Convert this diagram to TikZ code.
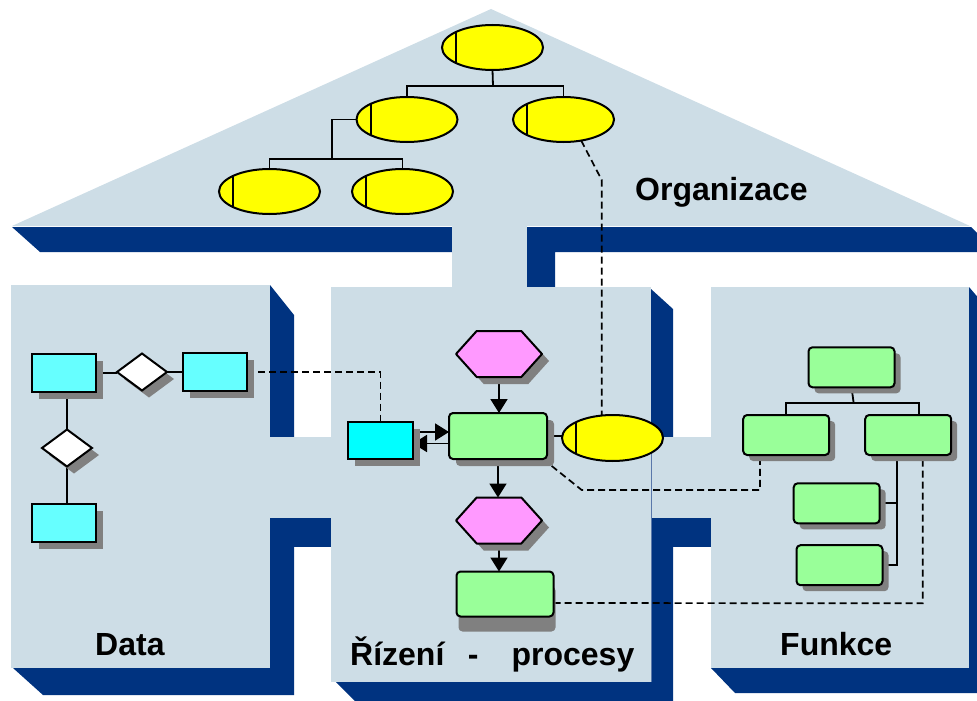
\documentclass[tikz,border=0pt]{standalone}
\usepackage{fontspec}
\setmainfont{Liberation Sans}
\usetikzlibrary{shapes.geometric,shadows,arrows.meta}
\definecolor{pale}{RGB}{205,221,230}
\definecolor{navy}{RGB}{0,51,128}
\definecolor{shadowgray}{RGB}{128,128,128}
\definecolor{ylw}{RGB}{255,255,0}
\definecolor{cyanA}{RGB}{102,255,255}
\definecolor{cyanB}{RGB}{0,255,255}
\definecolor{grn}{RGB}{153,255,153}
\definecolor{pnk}{RGB}{255,153,255}
\definecolor{edgeline}{RGB}{90,120,170}
\pgfdeclarelayer{bg}\pgfdeclarelayer{conn}\pgfsetlayers{bg,conn,main}
% hexagonal event drawn round an (invisible) named node
\newcommand\eventhex[1]{%
  \fill[shadowgray]
    ([shift={(7pt,-7pt)}]#1.west) -- ([shift={(7pt,-7pt)},xshift=20.7pt]#1.north west)
    -- ([shift={(7pt,-7pt)},xshift=-20.7pt]#1.north east) -- ([shift={(7pt,-7pt)}]#1.east)
    -- ([shift={(7pt,-7pt)},xshift=-20.7pt]#1.south east) -- ([shift={(7pt,-7pt)},xshift=20.7pt]#1.south west) -- cycle;
  \filldraw[fill=pnk,draw=black,line width=2pt,line join=round]
    (#1.west) -- ([xshift=20.7pt]#1.north west) -- ([xshift=-20.7pt]#1.north east) -- (#1.east)
    -- ([xshift=-20.7pt]#1.south east) -- ([xshift=20.7pt]#1.south west) -- cycle;}
\begin{document}
\begin{tikzpicture}[x=1pt,y=-1pt,
 castshadow/.style={drop shadow={shadow xshift=#1,shadow yshift=-#1,fill=shadowgray,opacity=1}},
 castshadow/.default=7pt,
 base/.style={draw=black,line width=2pt,inner sep=0pt,outer sep=0pt},
 orgunit/.style={base,ellipse,fill=ylw,minimum width=101pt,minimum height=45pt,
   path picture={\draw[line width=2pt] ([xshift=14pt]path picture bounding box.south west) -- ([xshift=14pt]path picture bounding box.north west);}},
 entity/.style={base,rectangle,minimum width=64pt,minimum height=38pt,castshadow},
 relation/.style={base,diamond,fill=white,minimum width=50pt,minimum height=37pt,castshadow},
 eventbox/.style={inner sep=0pt,outer sep=0pt,minimum width=86pt,minimum height=46pt},
 func/.style={base,rectangle,rounded corners=4pt,fill=grn,minimum width=86pt,minimum height=40pt},
 tree/.style={line width=1.8pt},
 linkdash/.style={line width=1.7pt,dash pattern=on 7pt off 4pt},
 arr/.style={line width=1.8pt,-{Triangle[length=14pt,width=17pt]}},
 pillartext/.style={inner sep=0pt,anchor=base west,font=\fontsize{32pt}{38pt}\selectfont\bfseries},
]
\useasboundingbox (0,0) rectangle (977,701);

% ---------- house ----------
\begin{pgfonlayer}{bg}
 \fill[navy] (12,227) -- (452,227) -- (452,252) -- (40,252) -- cycle;
 \fill[navy] (527,227) -- (971,227) -- (996,252) -- (555,252) -- (555,287) -- (527,287) -- cycle;
 \fill[navy] (270,285) -- (294,315) -- (294,695) -- (43,695) -- (13,668) -- (270,668) -- cycle;
 \fill[navy] (270,518) rectangle (331,547);
 \fill[navy] (651,289) -- (673,309) -- (673,701) -- (355,701) -- (336,682) -- (651,682) -- cycle;
 \fill[navy] (651,518) rectangle (711,547);
 \fill[navy] (969,287) -- (993,315) -- (993,693) -- (735,693) -- (711,668) -- (969,668) -- cycle;
 \fill[pale] (12,226) -- (491,9) -- (970,226) -- cycle;
 \fill[pale] (452,225) rectangle (527,288);
 \fill[pale] (11,285) rectangle (270,668);
 \fill[pale] (269,437) rectangle (332,518);
 \fill[pale] (331,287) rectangle (651,682);
 \fill[pale] (650,437) rectangle (711,518);
 \fill[pale] (711,287) rectangle (969,668);
 \draw[edgeline,line width=0.8pt] (651,452) -- (651,682);
\end{pgfonlayer}

% ---------- Organizace ----------
\node[orgunit] (o1) at (492.5,47.5) {};
\node[orgunit] (o2) at (407,119.5) {};
\node[orgunit] (o3) at (563.5,119.5) {};
\node[orgunit] (o4) at (269.5,191.5) {};
\node[orgunit] (o5) at (402.5,191.5) {};
\coordinate (t1) at (493,86);
\coordinate (t2) at (332,159);
\coordinate (k1) at (601.7,180);

% ---------- Data ----------
\node[entity,fill=cyanA] (d1) at (64,373) {};
\node[relation] (dd1) at (142,372) {};
\node[entity,fill=cyanA] (d2) at (215,372) {};
\node[relation] (dd2) at (67,448) {};
\node[entity,fill=cyanA] (d3) at (64,523) {};

% ---------- Rizeni - procesy ----------
\node[eventbox] (h1) at (499,354) {};
\eventhex{h1}
\node[func,minimum width=98pt,minimum height=46pt,castshadow] (g1) at (498,436) {};
\node[entity,fill=cyanB,minimum width=65pt,minimum height=37pt] (mc) at (380.5,440.5) {};
\node[orgunit,minimum height=46pt] (om) at (612.5,438) {};
\node[eventbox] (h2) at (499,520.5) {};
\eventhex{h2}
\node[func,minimum width=97pt,minimum height=45pt,
      drop shadow={shadow xshift=2pt,shadow yshift=-15pt,fill=shadowgray,opacity=1}] (g2) at (505,594) {};

% ---------- Funkce ----------
\node[func,castshadow=6pt] (f1) at (851.5,367.3) {};
\node[func,castshadow=6pt] (f2) at (786.2,435) {};
\node[func,castshadow=6pt] (f3) at (908.2,435) {};
\node[func,castshadow=6pt] (f4) at (836.7,503.3) {};
\node[func,castshadow=6pt] (f5) at (839.5,565.2) {};
\coordinate (t3) at (853.7,403.3);
\coordinate (v) at ([xshift=-11.5pt]f3.south);
\coordinate (k2) at (581.7,490);
\coordinate (k3) at (760,490);
\coordinate (k4) at (922.7,603.3);

% ---------- connectors ----------
\begin{pgfonlayer}{conn}
 \draw[tree] (o1.south) -- (t1);
 \draw[tree] (o2.north) |- (t1) -| (o3.north);
 \draw[tree] (o2.west) -| (t2);
 \draw[tree] (o4.north) |- (t2) -| (o5.north);
 \draw[linkdash] (o3.-50) -- (k1) -- (k1 |- om.north);

 \draw[tree] (d1.east) -- (d1.east -| dd1.west);
 \draw[tree] (dd1.east) -- (dd1.east -| d2.west);
 \draw[tree] (dd2.north) -- (dd2.north |- d1.south);
 \draw[tree] (dd2.south) -- (dd2.south |- d3.north);
 \draw[linkdash] (d2.east) -| (mc.north);

 \draw[arr] (h1.south) -- (h1.south |- g1.north);
 \draw[arr] ([yshift=8.5pt]mc.east) -- ([yshift=8.5pt]mc.east -| g1.west);
 \draw[arr] ([yshift=-7.5pt]g1.west) -- ([yshift=-7.5pt]g1.west -| mc.east);
 \draw[tree] (g1.east) -- (g1.east -| om.west);
 \draw[arr] (g1.south) -- (g1.south |- h2.north);
 \draw[arr] (h2.south) -- (h2.south |- g2.north);
 \draw[linkdash] ([xshift=-4pt]g1.south east) -- (k2) -- (k3) -- (k3 |- f2.south);
 \draw[linkdash] ([yshift=-9pt]g2.east) -- (k4) -- (k4 |- f3.south);

 \draw[tree] (f1.south) -- (t3);
 \draw[tree] (f2.north) |- (t3) -| ([xshift=11pt]f3.north);
 \draw[tree] (v) |- (f5.east);
 \draw[tree] (f4.east) -- (f4.east -| v);
\end{pgfonlayer}

% ---------- labels ----------
\node[pillartext] (lorg) at (635,200) {Organizace};
\node[pillartext] (ldata) at (95,655) {Data};
\node[pillartext] (lproc) at (350,665) {Řízení\hspace{23.5pt}-\hspace{33pt}procesy};
\node[pillartext] (lfunc) at (780,655) {Funkce};
\end{tikzpicture}
\end{document}
